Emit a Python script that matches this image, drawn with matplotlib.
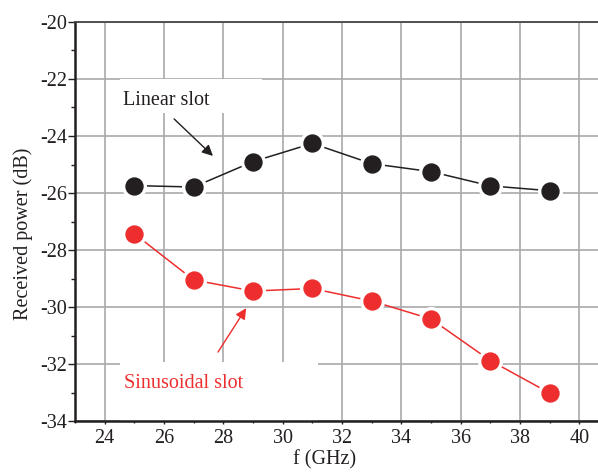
import matplotlib
matplotlib.use('Agg')
import matplotlib.pyplot as plt
from matplotlib.patches import Rectangle
from matplotlib.ticker import MultipleLocator

# frequencies (GHz) and received power (dB)
freq = [25, 27, 29, 31, 33, 35, 37, 39]
linear_slot = [-25.74, -25.79, -24.90, -24.26, -24.97, -25.25, -25.75, -25.92]
sinusoidal_slot = [-27.43, -29.05, -29.44, -29.35, -29.79, -30.42, -31.88, -33.02]

black = '#231f20'
red = '#ee2e2e'
grid_gray = '#a7a9ac'

plt.rcParams['font.family'] = ['Liberation Serif', 'DejaVu Serif']
plt.rcParams['font.size'] = 14.5
plt.rcParams['axes.unicode_minus'] = False

fig = plt.figure(figsize=(5.98, 4.73), dpi=100)
ax = fig.add_axes([0.1254, 0.1099, 0.893, 0.8436])

ax.set_xlim(23, 41)
ax.set_ylim(-34, -20)
ax.xaxis.set_minor_locator(MultipleLocator(1))
ax.yaxis.set_major_locator(MultipleLocator(2))
ax.yaxis.set_minor_locator(MultipleLocator(1))
ax.set_xticks(range(24, 41, 2))
ax.set_xticklabels([str(v) for v in range(24, 41, 2)])

ax.grid(True, which='major', color=grid_gray, linewidth=1.2, zorder=0)
ax.set_axisbelow(True)

for s in ['left', 'bottom']:
    ax.spines[s].set_linewidth(1.8)
    ax.spines[s].set_color(black)
ax.spines['top'].set_linewidth(1.3)
ax.spines['top'].set_color('#444444')

ax.tick_params(axis='y', which='major', direction='out', length=5, width=1.0, pad=0.8, colors=black)
ax.tick_params(axis='y', which='minor', direction='out', length=3, width=1.0, colors=black)
ax.tick_params(axis='x', which='major', direction='out', length=2.5, width=1.0, pad=3.5, colors=black)
ax.tick_params(axis='x', which='minor', direction='out', length=1.5, width=1.0, colors=black)

# white boxes behind the annotations (hide the grid)
ax.add_patch(Rectangle((24.52, -23.19), 4.79, 1.19, facecolor='white', edgecolor='none', zorder=1))
ax.add_patch(Rectangle((24.52, -34.0), 6.68, 2.07, facecolor='white', edgecolor='none', zorder=1))

for vals, col in [(linear_slot, black), (sinusoidal_slot, red)]:
    ax.plot(freq, vals, color=col, linewidth=1.1, zorder=3)
    ax.plot(freq, vals, linestyle='none', marker='o', markersize=17,
            markerfacecolor='white', markeredgecolor='white', zorder=4)
    ax.plot(freq, vals, linestyle='none', marker='o', markersize=12.2,
            markerfacecolor=col, markeredgecolor=col, zorder=5)

ax.text(26.07, -22.74, 'Linear slot', color=black, ha='center', va='center', zorder=6)
ax.annotate('', xy=(27.65, -24.70), xytext=(26.34, -23.40),
            arrowprops=dict(arrowstyle='-|>', color=black, lw=1.0, mutation_scale=16,
                            shrinkA=0, shrinkB=0), zorder=6)

ax.text(26.66, -32.67, 'Sinusoidal slot', color=red, ha='center', va='center', zorder=6)
ax.annotate('', xy=(28.77, -30.04), xytext=(27.82, -31.58),
            arrowprops=dict(arrowstyle='-|>', color=red, lw=1.0, mutation_scale=16,
                            shrinkA=0, shrinkB=0), zorder=6)

ax.set_ylabel('Received power (dB)', color=black)
ax.set_xlabel('f (GHz)', color=black)
ax.xaxis.set_label_coords(0.468, -0.074)
ax.yaxis.set_label_coords(-0.079, 0.47)

fig.savefig('out.png', dpi=100)
